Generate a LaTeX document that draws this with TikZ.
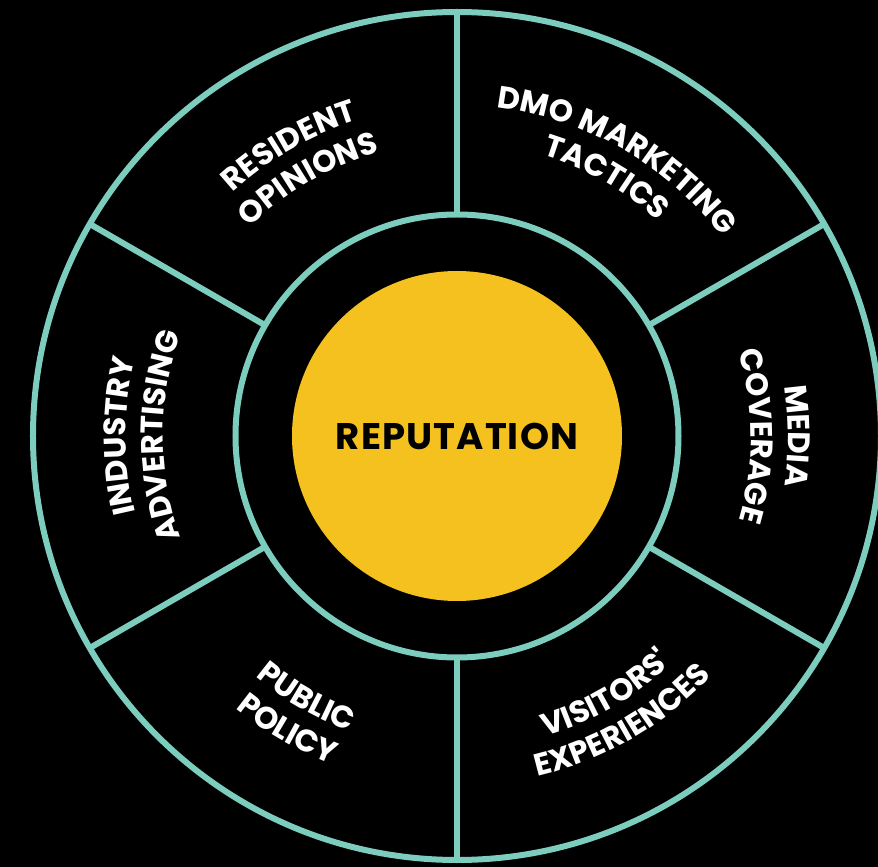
\documentclass[tikz,border=0pt]{standalone}
\usepackage{fontspec}
\newfontfamily\popfont{Poppins}[LetterSpace=3]
\usetikzlibrary{decorations.text}
\definecolor{ringteal}{RGB}{125,205,190}
\definecolor{gold}{RGB}{244,193,30}
\newcommand\ringfont{\popfont\bfseries\fontsize{31}{31}\selectfont}
\newcommand\ringtop[3]{%
  \path[decorate,decoration={text along path,text align=center,text color=white,text={|\ringfont|#3}}]
    ({#1+38}:#2) arc[start angle={#1+38},end angle={#1-38},radius=#2];}
\newcommand\ringbot[3]{%
  \path[decorate,decoration={text along path,text align=center,text color=white,text={|\ringfont|#3}}]
    ({#1-38}:#2) arc[start angle={#1-38},end angle={#1+38},radius=#2];}
\begin{document}
\begin{tikzpicture}[x=1pt,y=1pt,
  ring/.style={draw=ringteal,line width=6pt},
  core/.style={circle,fill=gold,minimum size=330pt,inner sep=0pt,
    font=\popfont\bfseries\fontsize{37}{37}\selectfont,text=black}]
\fill[black] (-457,-431) rectangle (421,436);
\useasboundingbox (-457,-431) rectangle (421,436);
\coordinate (O) at (0,0);
\draw[ring] (O) circle (424);
\draw[ring] (O) circle (221.5);
\foreach \a in {30,90,150,210,270,330} \draw[ring] (\a:221.5) -- (\a:424);
\node[core] (rep) at (O) {REPUTATION};
% top-style labels (letters upright outward)
\ringtop{120}{331}{RESIDENT}
\ringtop{120}{294}{OPINIONS}
\ringtop{60}{331}{DMO MARKETING}
\ringtop{60}{294}{TACTICS}
\ringtop{0}{331}{MEDIA}
\ringtop{0}{294}{COVERAGE}
\ringtop{180}{331}{INDUSTRY}
\ringtop{180}{294}{ADVERTISING}
% bottom-style labels (letters upright toward centre)
\ringbot{-120}{314}{PUBLIC}
\ringbot{-120}{351}{POLICY}
\ringbot{-60}{313}{VISITORS'}
\ringbot{-60}{350}{EXPERIENCES}
\end{tikzpicture}
\end{document}
